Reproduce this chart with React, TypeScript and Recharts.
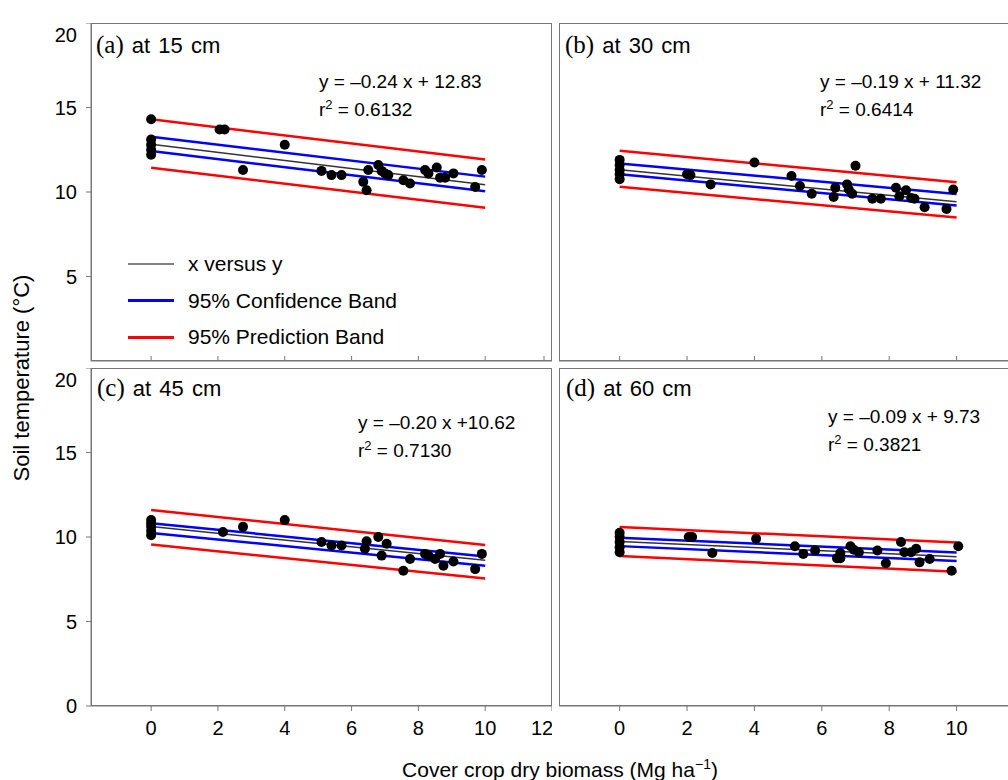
import React from 'react';
import { ComposedChart, Scatter, XAxis, YAxis } from 'recharts';

const FONT = "'Liberation Sans', Arial, sans-serif";
const SERIF = "'Liberation Serif', 'Times New Roman', serif";
const RED = '#ff0000';
const BLUE = '#0000ff';
const FIT = '#333333';
const FRAME = '#777777';

const xTicksLeft = [0, 2, 4, 6, 8, 10, 12];
const xTicksRight = [0, 2, 4, 6, 8, 10];
const yTicksTop = [5, 10, 15, 20];
const yTicksBottom = [0, 5, 10, 15, 20];
const bandX = [0, 10];

// (a) at 15 cm
const biomassA = [0, 0, 0, 0, 0, 2.05, 2.2, 2.75, 4.0, 5.1, 5.4, 5.7, 6.35, 6.45, 6.5, 6.8, 6.9, 7.0, 7.1, 7.55, 7.75, 8.2, 8.3, 8.55, 8.65, 8.8, 9.05, 9.7, 9.9];
const tempA = [14.3, 13.1, 12.8, 12.5, 12.2, 13.7, 13.7, 11.3, 12.8, 11.25, 11.0, 11.0, 10.6, 10.1, 11.3, 11.6, 11.25, 11.1, 11.0, 10.7, 10.5, 11.3, 11.1, 11.45, 10.85, 10.85, 11.1, 10.3, 11.3];
const fitA = [12.83, 10.43];
const confHiA = [13.27, 10.91];
const confLoA = [12.42, 10.04];
const predHiA = [14.3, 11.92];
const predLoA = [11.44, 9.07];

// (b) at 30 cm
const biomassB = [0, 0, 0, 0, 0, 2.0, 2.1, 2.7, 4.0, 5.1, 5.35, 5.7, 6.35, 6.4, 6.75, 6.8, 6.9, 7.0, 7.5, 7.75, 8.2, 8.3, 8.5, 8.65, 8.75, 9.05, 9.7, 9.9];
const tempB = [11.9, 11.6, 11.3, 11.05, 10.75, 11.05, 11.0, 10.45, 11.75, 10.95, 10.35, 9.9, 9.7, 10.25, 10.45, 10.15, 9.9, 11.55, 9.6, 9.6, 10.25, 9.75, 10.1, 9.65, 9.6, 9.1, 9.0, 10.15];
const fitB = [11.32, 9.42];
const confHiB = [11.69, 9.88];
const confLoB = [11.05, 9.2];
const predHiB = [12.44, 10.58];
const predLoB = [10.31, 8.49];

// (c) at 45 cm
const biomassC = [0, 0, 0, 0, 0, 2.15, 2.75, 4.0, 5.1, 5.4, 5.7, 6.4, 6.45, 6.8, 6.9, 7.05, 7.55, 7.75, 8.2, 8.3, 8.5, 8.65, 8.75, 9.05, 9.7, 9.9];
const tempC = [11.0, 10.8, 10.6, 10.35, 10.1, 10.3, 10.6, 11.0, 9.7, 9.5, 9.5, 9.3, 9.75, 10.0, 8.9, 9.6, 8.0, 8.7, 9.0, 8.9, 8.7, 9.0, 8.3, 8.55, 8.1, 9.0];
const fitC = [10.62, 8.62];
const confHiC = [10.82, 8.85];
const confLoC = [10.24, 8.3];
const predHiC = [11.6, 9.53];
const predLoC = [9.55, 7.54];

// (d) at 60 cm
const biomassD = [0, 0, 0, 0, 0, 2.05, 2.15, 2.75, 4.05, 5.2, 5.45, 5.8, 6.45, 6.55, 6.55, 6.85, 6.95, 7.1, 7.65, 7.9, 8.35, 8.45, 8.65, 8.8, 8.9, 9.2, 9.85, 10.05];
const tempD = [10.25, 10.0, 9.7, 9.4, 9.1, 10.0, 10.0, 9.05, 9.9, 9.45, 9.0, 9.2, 8.75, 8.75, 9.05, 9.45, 9.25, 9.1, 9.2, 8.45, 9.7, 9.1, 9.1, 9.3, 8.5, 8.7, 8.0, 9.45];
const fitD = [9.73, 8.83];
const confHiD = [9.96, 9.09];
const confLoD = [9.46, 8.58];
const predHiD = [10.59, 9.67];
const predLoD = [8.87, 7.95];

const pairs = (xs: number[], ys: number[]) => xs.map((x, i) => ({ x, y: ys[i] }));

const noDot = () => <g />;
const dot = (p: any) => <circle cx={p.cx} cy={p.cy} r={5} fill="#000" />;
// tick marks pointing up into the plot, no label (top panels)
const innerTick = (p: any) => (
  <line x1={p.x} x2={p.x} y1={p.y} y2={p.y - 5} stroke={FRAME} strokeWidth={1} />
);

const Y_W = 60;
const X_H = 46;
const PLOT_H = 338;

type PanelProps = {
  left: number;
  top: number;
  plotW: number;
  biomass: number[];
  temp: number[];
  fit: number[];
  confHi: number[];
  confLo: number[];
  predHi: number[];
  predLo: number[];
  xTicks: number[];
  yTicks?: number[];
  xLabels: boolean;
};

function Panel(p: PanelProps) {
  const w = p.plotW + (p.yTicks ? Y_W : 0);
  const h = PLOT_H + (p.xLabels ? X_H : 1);
  const band = (ys: number[], color: string, sw: number) => (
    <Scatter
      data={pairs(bandX, ys)}
      line={{ stroke: color, strokeWidth: sw }}
      shape={noDot}
      legendType="none"
      isAnimationActive={false}
    />
  );
  return (
    <div style={{ position: 'absolute', left: p.left - (p.yTicks ? Y_W : 0), top: p.top }}>
      <ComposedChart width={w} height={h} margin={{ top: 0, right: 0, bottom: 0, left: 0 }}>
        {p.xLabels ? (
          <XAxis
            dataKey="x"
            type="number"
            domain={[-1.8, 12]}
            ticks={p.xTicks}
            allowDataOverflow
            height={X_H}
            tick={{ fontSize: 20, fill: '#000' }}
            tickSize={5}
            tickMargin={10}
            stroke={FRAME}
          />
        ) : (
          <XAxis
            dataKey="x"
            type="number"
            domain={[-1.8, 12]}
            ticks={p.xTicks}
            allowDataOverflow
            height={1}
            tick={innerTick}
            tickLine={false}
            tickSize={0}
            tickMargin={0}
            stroke={FRAME}
          />
        )}
        <YAxis
          dataKey="y"
          type="number"
          domain={[0, 20]}
          ticks={p.yTicks || []}
          hide={!p.yTicks}
          width={Y_W}
          tick={{ fontSize: 20, fill: '#000' }}
          tickSize={5}
          tickMargin={9}
          stroke={FRAME}
        />
        {band(p.predHi, RED, 2.5)}
        {band(p.predLo, RED, 2.5)}
        {band(p.confHi, BLUE, 2.5)}
        {band(p.confLo, BLUE, 2.5)}
        {band(p.fit, FIT, 1.5)}
        <Scatter data={pairs(p.biomass, p.temp)} shape={dot} legendType="none" isAnimationActive={false} />
      </ComposedChart>
    </div>
  );
}

const frameStyle = (left: number, top: number, width: number): React.CSSProperties => ({
  position: 'absolute',
  left,
  top,
  width,
  height: PLOT_H,
  border: `1px solid ${FRAME}`,
  boxSizing: 'border-box',
  pointerEvents: 'none',
});

function Title({ left, top, tag, depth }: { left: number; top: number; tag: string; depth: string }) {
  return (
    <div style={{ position: 'absolute', left, top, whiteSpace: 'pre', lineHeight: '24px' }}>
      <span style={{ fontFamily: SERIF, fontSize: 25 }}>{tag}</span>
      <span style={{ fontSize: 22, wordSpacing: 2 }}> at {depth} cm</span>
    </div>
  );
}

function Equation({ left, top, eq, r2 }: { left: number; top: number; eq: string; r2: string }) {
  return (
    <div style={{ position: 'absolute', left, top, whiteSpace: 'nowrap', fontSize: 19, lineHeight: '28px' }}>
      <div>{eq}</div>
      <div>
        r<sup style={{ fontSize: 13, lineHeight: 0 }}>2</sup> = {r2}
      </div>
    </div>
  );
}

const legendItems = [
  { label: 'x versus y', color: '#808080', size: 2 },
  { label: '95% Confidence Band', color: BLUE, size: 3 },
  { label: '95% Prediction Band', color: RED, size: 3 },
];

export default function App() {
  return (
    <div
      style={{
        position: 'absolute',
        left: 0,
        top: 0,
        width: 1008,
        height: 780,
        overflow: 'hidden',
        background: '#fff',
        fontFamily: FONT,
        color: '#000',
      }}
    >
      <Panel left={91} top={23} plotW={461} biomass={biomassA} temp={tempA} fit={fitA} confHi={confHiA} confLo={confLoA} predHi={predHiA} predLo={predLoA} xTicks={xTicksLeft} yTicks={yTicksTop} xLabels={false} />
      <Panel left={559} top={23} plotW={465} biomass={biomassB} temp={tempB} fit={fitB} confHi={confHiB} confLo={confLoB} predHi={predHiB} predLo={predLoB} xTicks={xTicksRight} xLabels={false} />
      <Panel left={91} top={368} plotW={461} biomass={biomassC} temp={tempC} fit={fitC} confHi={confHiC} confLo={confLoC} predHi={predHiC} predLo={predLoC} xTicks={xTicksLeft} yTicks={yTicksBottom} xLabels />
      <Panel left={559} top={368} plotW={465} biomass={biomassD} temp={tempD} fit={fitD} confHi={confHiD} confLo={confLoD} predHi={predHiD} predLo={predLoD} xTicks={xTicksRight} xLabels />

      <div style={frameStyle(91, 23, 461)} />
      <div style={frameStyle(559, 23, 470)} />
      <div style={frameStyle(91, 368, 461)} />
      <div style={frameStyle(559, 368, 470)} />

      <Title left={96} top={33} tag="(a)" depth="15" />
      <Title left={565} top={33} tag="(b)" depth="30" />
      <Title left={97} top={376} tag="(c)" depth="45" />
      <Title left={566} top={376} tag="(d)" depth="60" />

      <Equation left={319} top={68} eq="y = –0.24 x + 12.83" r2="0.6132" />
      <Equation left={820} top={68} eq="y = –0.19 x + 11.32" r2="0.6414" />
      <Equation left={358} top={409} eq="y = –0.20 x +10.62" r2="0.7130" />
      <Equation left={828} top={403} eq="y = –0.09 x + 9.73" r2="0.3821" />

      {legendItems.map((it, i) => (
        <div key={it.label} style={{ position: 'absolute', left: 128, top: 252 + i * 36.5, height: 24, display: 'flex', alignItems: 'center', whiteSpace: 'nowrap' }}>
          <div style={{ width: 46, height: it.size, background: it.color }} />
          <span style={{ marginLeft: 14, fontSize: 21 }}>{it.label}</span>
        </div>
      ))}

      <div
        style={{
          position: 'absolute',
          left: 22,
          top: 378,
          transform: 'translate(-50%, -50%) rotate(-90deg)',
          whiteSpace: 'nowrap',
          fontSize: 22,
        }}
      >
        Soil temperature (°C)
      </div>
      <div
        style={{
          position: 'absolute',
          left: 560,
          top: 770,
          transform: 'translate(-50%, -50%)',
          whiteSpace: 'nowrap',
          fontSize: 21,
        }}
      >
        Cover crop dry biomass (Mg ha<sup style={{ fontSize: 14, lineHeight: 0 }}>−1</sup>)
      </div>
    </div>
  );
}
